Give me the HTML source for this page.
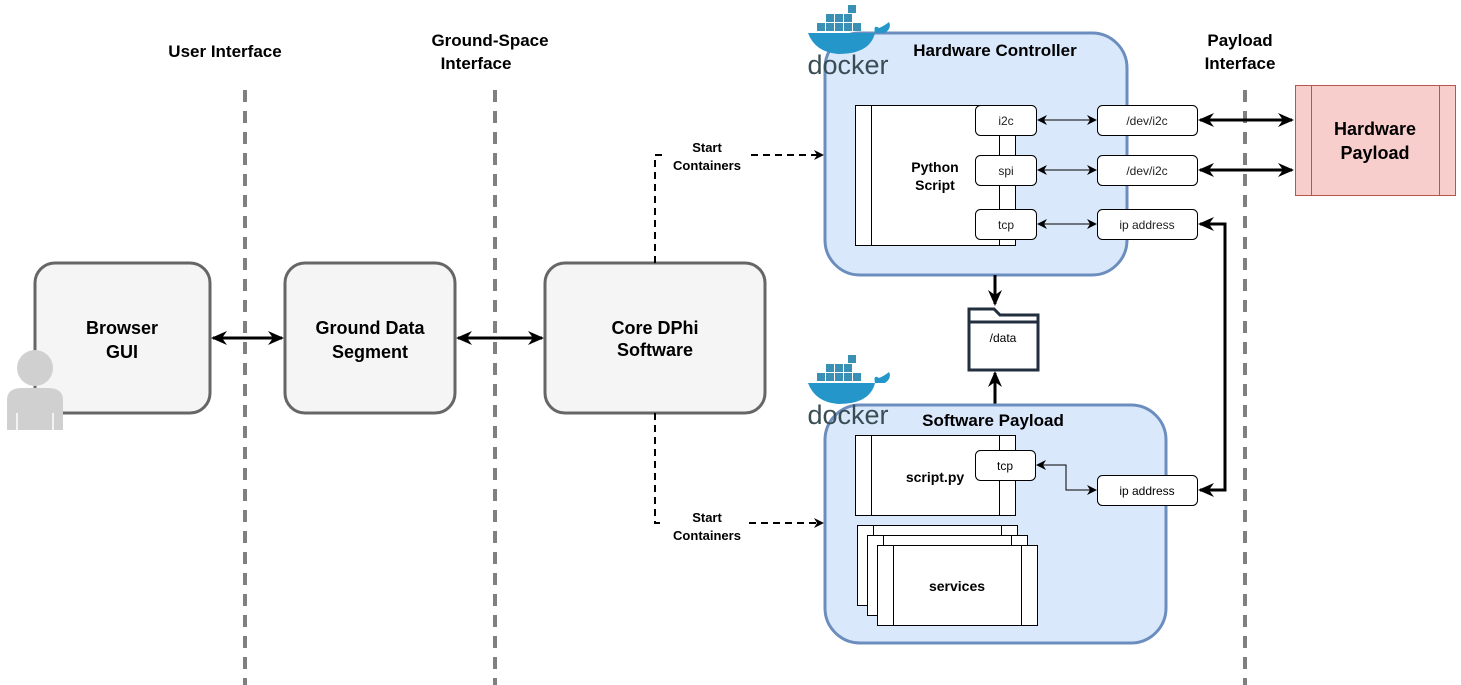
<!DOCTYPE html>
<html><head><meta charset="utf-8"><style>
html,body{margin:0;padding:0;background:#fff;}
svg{display:block;font-family:"Liberation Sans",Arial,sans-serif;}
</style></head><body>
<svg width="1461" height="685" viewBox="0 0 1461 685" xmlns="http://www.w3.org/2000/svg">
<defs>
<marker id="a" markerWidth="10" markerHeight="10" refX="8" refY="5" orient="auto-start-reverse" markerUnits="userSpaceOnUse"><path d="M0,0 L10,5 L0,10 L3,5 Z" fill="#000"/></marker>
<marker id="b" markerWidth="16" markerHeight="14" refX="14" refY="7" orient="auto-start-reverse" markerUnits="userSpaceOnUse"><path d="M0,0 L16,7 L0,14 L5,7 Z" fill="#000"/></marker>
</defs>
<g stroke="#808080" stroke-width="4" stroke-dasharray="12 9">
<line x1="245" y1="90" x2="245" y2="685"/>
<line x1="495" y1="90" x2="495" y2="685"/>
<line x1="1245" y1="90" x2="1245" y2="685"/>
</g>
<g font-weight="bold" font-size="17" text-anchor="middle" fill="#000">
<text x="225" y="57">User Interface</text>
<text x="490" y="46">Ground-Space</text><text x="476" y="69">Interface</text>
<text x="1240" y="46">Payload</text><text x="1240" y="69">Interface</text>
</g>
<g fill="#f5f5f5" stroke="#666" stroke-width="3">
<rect x="35" y="263" width="175" height="150" rx="20"/>
<rect x="285" y="263" width="170" height="150" rx="20"/>
<rect x="545" y="263" width="220" height="150" rx="20"/>
</g>
<g font-weight="bold" font-size="18" text-anchor="middle">
<text x="122" y="334">Browser</text><text x="122" y="358">GUI</text>
<text x="370" y="334">Ground Data</text><text x="370" y="358">Segment</text>
<text x="655" y="334">Core DPhi</text><text x="655" y="356">Software</text>
</g>
<g stroke="#000" stroke-width="3" fill="none">
<line x1="213" y1="338" x2="282" y2="338" marker-start="url(#b)" marker-end="url(#b)"/>
<line x1="458" y1="338" x2="542" y2="338" marker-start="url(#b)" marker-end="url(#b)"/>
</g>
<g fill="#d0d0d0">
<circle cx="35" cy="368" r="18"/>
<path d="M7,430 L7,400 Q7,388 22,388 L48,388 Q63,388 63,400 L63,430 Z"/>
</g>
<g stroke="#fff" stroke-width="1.5"><line x1="17" y1="413" x2="17" y2="430"/><line x1="53" y1="413" x2="53" y2="430"/></g>
<g stroke="#000" stroke-width="2" stroke-dasharray="7 5" fill="none">
<path d="M655,263 L655,155 L822,155" marker-end="url(#a)"/>
<path d="M655,413 L655,523 L822,523" marker-end="url(#a)"/>
</g>
<g font-weight="bold" font-size="13" text-anchor="middle">
<rect x="665" y="138" width="84" height="34" fill="#fff"/>
<text x="707" y="152">Start</text><text x="707" y="170">Containers</text>
<rect x="665" y="508" width="84" height="34" fill="#fff"/>
<text x="707" y="522">Start</text><text x="707" y="540">Containers</text>
</g>
<rect x="825" y="33" width="302" height="242" rx="35" fill="#dae8fc" stroke="#6c8ebf" stroke-width="3"/>
<text x="995" y="56" font-weight="bold" font-size="17" text-anchor="middle">Hardware Controller</text>
<g fill="#fff" stroke="#000" stroke-width="1">
<rect x="855.5" y="105.5" width="160" height="140"/>
<line x1="871.5" y1="105.5" x2="871.5" y2="245.5"/>
<line x1="999.5" y1="105.5" x2="999.5" y2="245.5"/>
<rect x="975.5" y="105.5" width="61" height="30" rx="5"/>
<rect x="975.5" y="155.5" width="61" height="30" rx="5"/>
<rect x="975.5" y="209.5" width="61" height="30" rx="5"/>
<rect x="1097.5" y="105.5" width="100" height="30" rx="5"/>
<rect x="1097.5" y="155.5" width="100" height="30" rx="5"/>
<rect x="1097.5" y="209.5" width="100" height="30" rx="5"/>
</g>
<text x="935" y="172" font-weight="bold" font-size="14" text-anchor="middle">Python</text>
<text x="935" y="190" font-weight="bold" font-size="14" text-anchor="middle">Script</text>
<g font-size="12" text-anchor="middle" fill="#222">
<text x="1006" y="125">i2c</text><text x="1006" y="175">spi</text><text x="1006" y="229">tcp</text>
<text x="1147" y="125">/dev/i2c</text><text x="1147" y="175">/dev/i2c</text><text x="1147" y="229">ip address</text>
</g>
<g stroke="#000" stroke-width="1" fill="none">
<line x1="1039" y1="120" x2="1095" y2="120" marker-start="url(#a)" marker-end="url(#a)"/>
<line x1="1039" y1="170" x2="1095" y2="170" marker-start="url(#a)" marker-end="url(#a)"/>
<line x1="1039" y1="224" x2="1095" y2="224" marker-start="url(#a)" marker-end="url(#a)"/>
</g>
<g stroke="#000" stroke-width="3" fill="none">
<line x1="1200" y1="120" x2="1292" y2="120" marker-start="url(#b)" marker-end="url(#b)"/>
<line x1="1200" y1="170" x2="1292" y2="170" marker-start="url(#b)" marker-end="url(#b)"/>
<path d="M1200,224 L1225,224 L1225,490 L1200,490" marker-start="url(#b)" marker-end="url(#b)"/>
<line x1="995" y1="275" x2="995" y2="304" marker-end="url(#b)"/>
<line x1="995" y1="405" x2="995" y2="373" marker-end="url(#b)"/>
</g>
<rect x="1295.5" y="85.5" width="160" height="110" fill="#f8cecc" stroke="#b85450" stroke-width="1"/>
<line x1="1311.5" y1="85.5" x2="1311.5" y2="195.5" stroke="#b85450"/>
<line x1="1439.5" y1="85.5" x2="1439.5" y2="195.5" stroke="#b85450"/>
<text x="1375" y="135" font-weight="bold" font-size="18" text-anchor="middle">Hardware</text>
<text x="1375" y="159" font-weight="bold" font-size="18" text-anchor="middle">Payload</text>
<path d="M969,309 L994,309 L1000,315 L1038,315 L1038,370 L969,370 Z" fill="#fff" stroke="#232f3e" stroke-width="3"/>
<line x1="969" y1="322" x2="1038" y2="322" stroke="#232f3e" stroke-width="3"/>
<text x="1003" y="342" font-size="12" text-anchor="middle">/data</text>
<rect x="825" y="405" width="341" height="238" rx="35" fill="#dae8fc" stroke="#6c8ebf" stroke-width="3"/>
<text x="993" y="426" font-weight="bold" font-size="17" text-anchor="middle">Software Payload</text>
<g fill="#fff" stroke="#000" stroke-width="1">
<rect x="855.5" y="435.5" width="160" height="80"/>
<line x1="871.5" y1="435.5" x2="871.5" y2="515.5"/>
<line x1="999.5" y1="435.5" x2="999.5" y2="515.5"/>
<rect x="975.5" y="450.5" width="60" height="30" rx="5"/>
<rect x="1097.5" y="475.5" width="100" height="30" rx="5"/>
<rect x="857.5" y="525.5" width="160" height="80"/><line x1="873.5" y1="525.5" x2="873.5" y2="605.5"/><line x1="1001.5" y1="525.5" x2="1001.5" y2="605.5"/>
<rect x="867.5" y="535.5" width="160" height="80"/><line x1="883.5" y1="535.5" x2="883.5" y2="615.5"/><line x1="1011.5" y1="535.5" x2="1011.5" y2="615.5"/>
<rect x="877.5" y="545.5" width="160" height="80"/><line x1="893.5" y1="545.5" x2="893.5" y2="625.5"/><line x1="1021.5" y1="545.5" x2="1021.5" y2="625.5"/>
</g>
<text x="935" y="482" font-weight="bold" font-size="14" text-anchor="middle">script.py</text>
<text x="957" y="591" font-weight="bold" font-size="14" text-anchor="middle">services</text>
<text x="1005" y="470" font-size="12" text-anchor="middle">tcp</text>
<text x="1147" y="495" font-size="12" text-anchor="middle">ip address</text>
<path d="M1038,465 L1066,465 L1066,490 L1095,490" stroke="#000" fill="none" marker-start="url(#a)" marker-end="url(#a)"/>
<g id="dk">
<g fill="#3a8fb5"><rect x="826" y="14" width="8" height="8"/><rect x="835" y="14" width="8" height="8"/><rect x="844" y="14" width="8" height="8"/><rect x="835" y="23" width="8" height="8"/><rect x="844" y="23" width="8" height="8"/><rect x="853" y="23" width="8" height="8"/><rect x="817" y="23" width="8" height="8"/><rect x="826" y="23" width="8" height="8"/><rect x="848" y="5" width="8" height="8"/></g>
<path d="M808,33 L885,33 Q892,28 889,22 Q884,26 879,28 Q873,24 875,33 Q870,54 838,54 Q815,52 808,33 Z" fill="#2496c9"/>
<text x="848" y="74" font-size="27" fill="#394d54" text-anchor="middle">docker</text>
</g>
<use href="#dk" y="350"/>
</svg>
</body></html>
